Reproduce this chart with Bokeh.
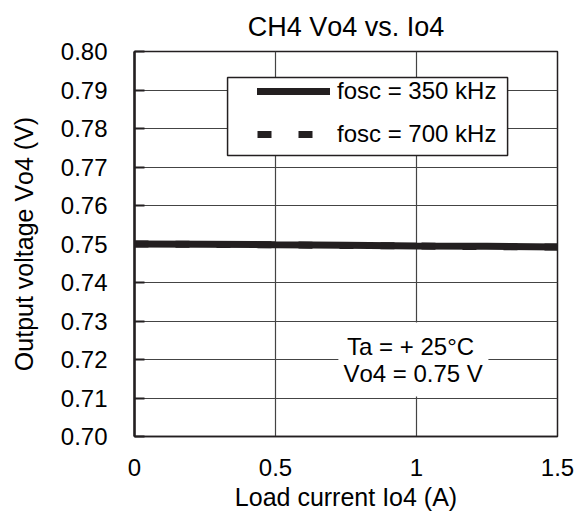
from bokeh.plotting import figure
from bokeh.models import (Range1d, FixedTicker, NumeralTickFormatter, Legend,
                          LegendItem, Label, BoxAnnotation)
from bokeh.embed import file_html
from bokeh.resources import INLINE

# ---- data ----
title_text = "CH4 V\u1d0f4 vs. I\u1d0f4"
x_label = "Load current I\u1d0f4 (A)"
y_label = "Output voltage V\u1d0f4 (V)"
x_ticks = [0.0, 0.5, 1.0, 1.5]
y_ticks = [0.70, 0.71, 0.72, 0.73, 0.74, 0.75, 0.76, 0.77, 0.78, 0.79, 0.80]
load_current = [0.0, 0.25, 0.5, 0.75, 1.0, 1.25, 1.5]
vout_350k = [0.7500, 0.74995, 0.7498, 0.7497, 0.7495, 0.7494, 0.7492]
vout_700k = [0.7500, 0.7499, 0.7498, 0.7496, 0.7495, 0.7493, 0.7492]
series_labels = ["fosc = 350 kHz", "fosc = 700 kHz"]
note_lines = ["Ta = + 25\u00b0C", "V\u1d0f4 = 0.75 V"]

FONT = "Liberation Sans"
INK = "#231f20"

p = figure(frame_width=423, frame_height=385,
           x_range=Range1d(x_ticks[0], x_ticks[-1]),
           y_range=Range1d(y_ticks[0], y_ticks[-1]),
           output_backend="svg", toolbar_location=None,
           min_border_left=134, min_border_right=17,
           min_border_top=51, min_border_bottom=78)

p.title.text = title_text
p.title.align = "center"
p.title.text_font = FONT
p.title.text_font_size = "27px"
p.title.text_font_style = "normal"
p.title.text_color = "black"
p.title.standoff = 19

p.outline_line_color = INK
p.outline_line_width = 1.5
p.outline_line_alpha = 1.0

# grids
p.xgrid.ticker = FixedTicker(ticks=x_ticks)
p.ygrid.ticker = FixedTicker(ticks=y_ticks)
for g in (p.xgrid, p.ygrid):
    g.grid_line_color = "#444444"
    g.grid_line_width = 1.2
    g.grid_line_alpha = 1.0

# axes
p.xaxis.ticker = FixedTicker(ticks=x_ticks)
p.yaxis.ticker = FixedTicker(ticks=y_ticks)
p.xaxis.formatter = NumeralTickFormatter(format="0.[0]")
p.yaxis.formatter = NumeralTickFormatter(format="0.00")
for ax in (p.xaxis, p.yaxis):
    ax.major_label_text_font = FONT
    ax.major_label_text_font_size = "24px"
    ax.major_label_text_color = "black"
    ax.axis_label_text_font = FONT
    ax.axis_label_text_font_size = "25px"
    ax.axis_label_text_font_style = "normal"
    ax.axis_label_text_color = "black"
    ax.minor_tick_line_color = None
    ax.major_tick_out = 0
p.xaxis.axis_label = x_label
p.yaxis.axis_label = y_label
p.xaxis.major_tick_in = 0
p.xaxis.axis_line_color = INK
p.xaxis.axis_line_width = 1.5
p.xaxis.major_label_standoff = 22
p.xaxis.axis_label_standoff = 4
p.yaxis.axis_line_color = INK
p.yaxis.axis_line_width = 2.5
p.yaxis.major_tick_in = 10
p.yaxis.major_tick_line_width = 2
p.yaxis.major_tick_line_color = INK
p.yaxis.major_label_standoff = 27
p.yaxis.axis_label_standoff = 20

# legend frame (drawn behind a borderless legend)
legend_box = BoxAnnotation(left=0.33, right=1.323, bottom=0.773, top=0.79325,
                           fill_color="white", fill_alpha=1.0,
                           line_color=INK, line_alpha=1.0, line_width=1.5,
                           level="annotation")
p.add_layout(legend_box)

# note box
note_box = BoxAnnotation(left=0.723, right=1.255, bottom=0.7104, top=0.7296,
                         fill_color="white", fill_alpha=1.0, line_alpha=0.0,
                         level="annotation")
p.add_layout(note_box)
p.add_layout(Label(x=0.979, y=0.7234, text=note_lines[0], text_align="center",
                   text_baseline="middle", text_font=FONT, text_font_size="24px",
                   text_color="black"))
p.add_layout(Label(x=0.988, y=0.7164, text=note_lines[1], text_align="center",
                   text_baseline="middle", text_font=FONT, text_font_size="24px",
                   text_color="black"))

# data
r700 = p.line(load_current, vout_700k, line_width=7, line_color=INK,
              line_dash="14 27", line_cap="butt")
r350 = p.line(load_current, vout_350k, line_width=7, line_color=INK,
              line_cap="round")

legend = Legend(items=[LegendItem(label=series_labels[0], renderers=[r350]),
                       LegendItem(label=series_labels[1], renderers=[r700])],
                location=(123, 288), padding=0, margin=0,
                border_line_alpha=0.0, background_fill_alpha=0.0,
                glyph_width=73, glyph_height=24, label_height=24,
                spacing=15, label_standoff=7,
                label_text_font=FONT, label_text_font_size="24px",
                label_text_color="black")
p.add_layout(legend)

open("out.html", "w").write(file_html(p, INLINE))
